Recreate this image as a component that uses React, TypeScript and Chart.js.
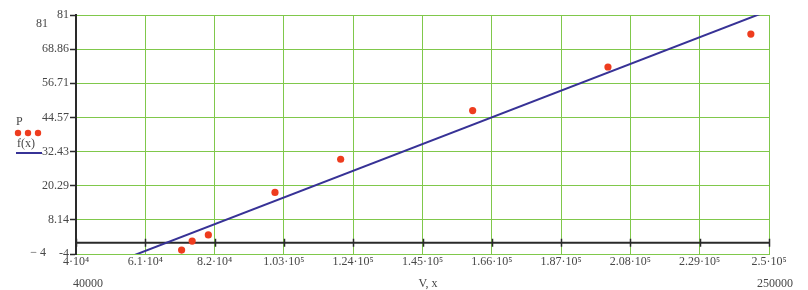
import React, { useEffect, useRef } from "react";
import { Chart, registerables } from "chart.js";

Chart.register(...registerables);

const V_DATA = [72000, 75200, 80100, 100300, 120200, 160200, 201200, 244500];
const P_DATA = [-2.6, 0.6, 2.8, 17.9, 29.7, 47.0, 62.5, 74.2];
const FIT_X = [40000, 250000];
const FIT_Y = [-12.4, 82.6];
const X_TICKS = [40000, 61000, 82000, 103000, 124000, 145000, 166000, 187000, 208000, 229000, 250000];
const X_TICK_LABELS = ["4·10⁴", "6.1·10⁴", "8.2·10⁴", "1.03·10⁵", "1.24·10⁵", "1.45·10⁵", "1.66·10⁵", "1.87·10⁵", "2.08·10⁵", "2.29·10⁵", "2.5·10⁵"];
const Y_TICKS = [-4, 8.14, 20.29, 32.43, 44.57, 56.71, 68.86, 81];
const Y_TICK_LABELS = ["-4", "8.14", "20.29", "32.43", "44.57", "56.71", "68.86", "81"];
const X_MIN_LABEL = "40000";
const X_MAX_LABEL = "250000";
const Y_MIN_LABEL = "− 4";
const Y_MAX_LABEL = "81";
const X_AXIS_TITLE = "V, x";
const LEGEND_P = "P";
const LEGEND_F = "f(x)";

const FONT = "'Liberation Serif', 'DejaVu Serif', serif";
const TEXT = "#474747";
const GRID = "rgb(128,200,75)";
const RED = "rgb(238,60,30)";
const BLUE = "rgb(55,50,150)";

const overlay = {
  id: "overlay",
  beforeDatasetsDraw(chart: any) {
    const { ctx, chartArea, scales } = chart;
    const y0 = scales.y.getPixelForValue(0);
    ctx.save();
    ctx.strokeStyle = "#2a2a2a";
    ctx.lineWidth = 2;
    ctx.beginPath();
    ctx.moveTo(chartArea.left, y0);
    ctx.lineTo(chartArea.right, y0);
    ctx.stroke();
    ctx.lineWidth = 1.5;
    X_TICKS.forEach((v) => {
      const x = Math.round(scales.x.getPixelForValue(v)) + 0.5;
      ctx.beginPath();
      ctx.moveTo(x, y0 - 4);
      ctx.lineTo(x, y0 + 4);
      ctx.stroke();
    });
    ctx.restore();
  },
  afterDraw(chart: any) {
    const { ctx } = chart;
    ctx.save();
    ctx.fillStyle = TEXT;
    ctx.font = `12px ${FONT}`;
    ctx.textBaseline = "alphabetic";
    ctx.textAlign = "right";
    ctx.fillText(Y_MAX_LABEL, 48, 27);
    ctx.fillText(Y_MIN_LABEL, 46, 256);
    ctx.textAlign = "left";
    ctx.fillText(X_MIN_LABEL, 73, 287);
    ctx.textAlign = "center";
    ctx.fillText(X_AXIS_TITLE, 428, 287);
    ctx.textAlign = "right";
    ctx.fillText(X_MAX_LABEL, 793, 287);
    // legend
    ctx.textAlign = "left";
    ctx.fillText(LEGEND_P, 16, 125);
    ctx.fillText(LEGEND_F, 17, 147);
    ctx.fillStyle = RED;
    [18, 28, 38].forEach((x) => {
      ctx.beginPath();
      ctx.arc(x, 133, 3.2, 0, Math.PI * 2);
      ctx.fill();
    });
    ctx.strokeStyle = BLUE;
    ctx.lineWidth = 2;
    ctx.beginPath();
    ctx.moveTo(16, 153);
    ctx.lineTo(42, 153);
    ctx.stroke();
    ctx.restore();
  },
};

export default function App() {
  const ref = useRef<HTMLCanvasElement>(null);
  useEffect(() => {
    document.body.style.margin = "0";
    const chart = new Chart(ref.current as HTMLCanvasElement, {
      type: "scatter",
      data: {
        datasets: [
          {
            label: "P",
            data: V_DATA.map((v, i) => ({ x: v, y: P_DATA[i] })),
            backgroundColor: RED,
            borderColor: RED,
            pointRadius: 3.6,
            pointBorderWidth: 0,
            showLine: false,
          },
          {
            label: "f(x)",
            data: FIT_X.map((v, i) => ({ x: v, y: FIT_Y[i] })),
            borderColor: BLUE,
            backgroundColor: BLUE,
            borderWidth: 2,
            pointRadius: 0,
            showLine: true,
          },
        ],
      },
      options: {
        animation: false,
        responsive: false,
        layout: { padding: { left: 0, right: 39, top: 15, bottom: 0 } },
        plugins: { legend: { display: false }, tooltip: { enabled: false } },
        scales: {
          x: {
            type: "linear",
            min: 40000,
            max: 250000,
            afterBuildTicks: (s: any) => {
              s.ticks = X_TICKS.map((v) => ({ value: v }));
            },
            afterFit: (s: any) => {
              s.height = 36;
            },
            ticks: {
              autoSkip: false,
              maxRotation: 0,
              padding: 1,
              color: TEXT,
              font: { family: FONT, size: 12 },
              callback: (_v: any, i: number) => X_TICK_LABELS[i],
            },
            grid: { color: GRID, lineWidth: 1, drawTicks: false },
            border: { display: true, color: GRID, width: 1 },
          },
          y: {
            type: "linear",
            min: -4,
            max: 81,
            afterBuildTicks: (s: any) => {
              s.ticks = Y_TICKS.map((v) => ({ value: v }));
            },
            afterFit: (s: any) => {
              s.width = 76;
            },
            ticks: {
              autoSkip: false,
              padding: 1,
              color: TEXT,
              font: { family: FONT, size: 12 },
              callback: (_v: any, i: number) => Y_TICK_LABELS[i],
            },
            grid: { color: GRID, lineWidth: 1, drawTicks: true, tickLength: 6, tickColor: "#2a2a2a", tickWidth: 1.5 },
            border: { display: true, color: "#2a2a2a", width: 2 },
          },
        },
      },
      plugins: [overlay],
    } as any);
    return () => chart.destroy();
  }, []);
  return (
    <div style={{ width: 808, height: 290 }}>
      <canvas ref={ref} width={808} height={290} style={{ width: 808, height: 290, display: "block" }} />
    </div>
  );
}
